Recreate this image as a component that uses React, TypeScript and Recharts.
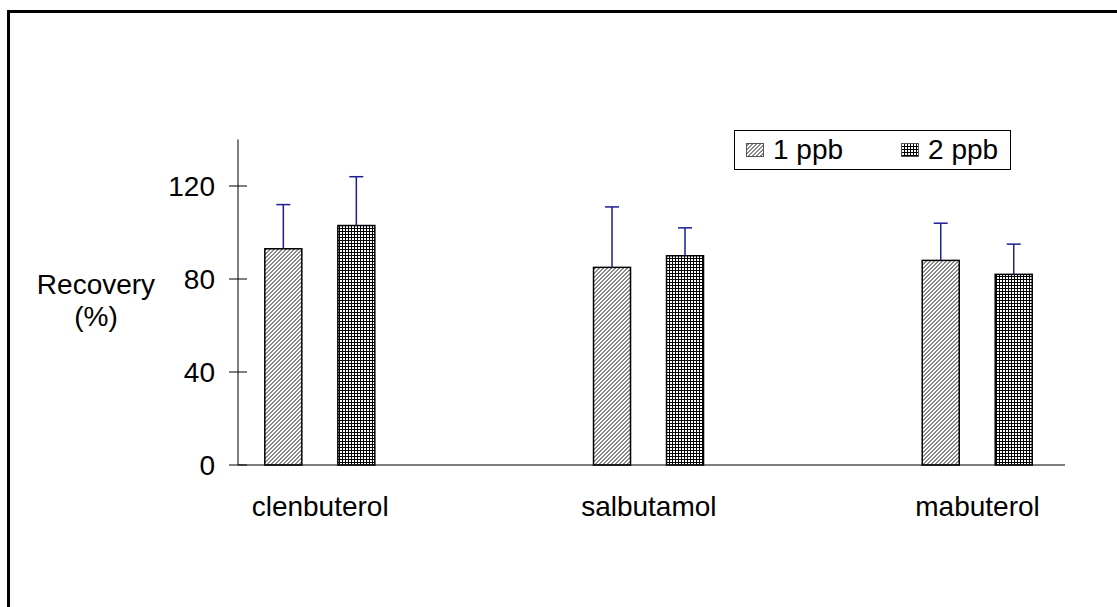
import React from 'react';
import { BarChart, Bar, XAxis, YAxis, Legend } from 'recharts';

const categories = ['clenbuterol', 'salbutamol', 'mabuterol'];
const seriesNames = ['1 ppb', '2 ppb'];
const recovery1ppb = [93, 85, 88];
const error1ppb = [19, 26, 16];
const recovery2ppb = [103, 90, 82];
const error2ppb = [21, 12, 13];
const yTicks = [0, 40, 80, 120];

const FONT = '"Liberation Sans", Arial, sans-serif';
const FONT_SIZE = 28;
const ERR_COLOR = '#1c1c96';
const fills = ['url(#diag)', 'url(#grid)'];

const data = categories.map((name, i) => ({
  idx: i,
  name,
  p1: recovery1ppb[i],
  e1: error1ppb[i],
  p2: recovery2ppb[i],
  e2: error2ppb[i],
}));

// bar with an upward-only error whisker, scaled from the bar's own height
const makeShape = (valueKey: string, errKey: string) => (props: any) => {
  const { x, y, width, height, fill, payload } = props;
  const value = payload[valueKey];
  const errPx = value ? (payload[errKey] * height) / value : 0;
  const cx = x + width / 2;
  return (
    <g>
      <rect x={x} y={y} width={width} height={height} fill={fill} stroke="#000" strokeWidth={1.5} />
      <line x1={cx} y1={y} x2={cx} y2={y - errPx} stroke={ERR_COLOR} strokeWidth={1.5} />
      <line x1={cx - 7} x2={cx + 7} y1={y - errPx} y2={y - errPx} stroke={ERR_COLOR} strokeWidth={1.5} />
    </g>
  );
};

// tick mark crosses the axis line, label sits left of it
const YTick = (props: any) => {
  const { x, y, payload } = props;
  return (
    <g>
      <line x1={x + 14} x2={x + 32} y1={y} y2={y} stroke="#000" strokeWidth={1} />
      <text x={x} y={y} dy="0.355em" textAnchor="end" fill="#000" fontFamily={FONT} fontSize={FONT_SIZE}>
        {payload.value}
      </text>
    </g>
  );
};

const XTick = (props: any) => {
  const { x, y, payload } = props;
  return (
    <text x={x} y={y} dy="0.71em" textAnchor="middle" fill="#000" fontFamily={FONT} fontSize={FONT_SIZE}>
      {categories[payload.value]}
    </text>
  );
};

const YLabel = () => (
  <text x={96} y={294} textAnchor="middle" fill="#000" fontFamily={FONT} fontSize={FONT_SIZE}>
    <tspan x={96}>Recovery</tspan>
    <tspan x={96} dy={32}>(%)</tspan>
  </text>
);

const LegendBox = () => (
  <div
    style={{
      boxSizing: 'border-box',
      height: 40,
      border: '1.5px solid #000',
      background: '#fff',
      display: 'flex',
      alignItems: 'center',
      paddingLeft: 11,
      fontFamily: FONT,
      fontSize: FONT_SIZE,
      color: '#000',
    }}
  >
    {seriesNames.map((name, i) => (
      <div key={name} style={{ display: 'flex', alignItems: 'center', marginRight: i === 0 ? 58 : 0 }}>
        <svg width={18} height={14} style={{ marginRight: 9 }}>
          <rect x={0.5} y={0.5} width={17} height={13} fill={fills[i]} stroke="#555" strokeWidth={1} />
        </svg>
        <span>{name}</span>
      </div>
    ))}
  </div>
);

export default function App() {
  return (
    <div
      style={{
        position: 'fixed',
        left: 0,
        top: 0,
        width: 1117,
        height: 607,
        overflow: 'hidden',
        background: '#fff',
      }}
    >
      <div
        style={{
          position: 'absolute',
          left: 7,
          top: 10,
          width: 1200,
          height: 700,
          borderTop: '3px solid #000',
          borderLeft: '3px solid #000',
        }}
      />
      <div style={{ position: 'absolute', left: 0, top: 0 }}>
        <BarChart
          width={1117}
          height={607}
          data={data}
          margin={{ top: 139.5, right: 52, left: 0, bottom: 82 }}
          barSize={37}
          barGap={36}
        >
          <defs>
            <pattern id="diag" patternUnits="userSpaceOnUse" width={4} height={4}>
              <rect width={4} height={4} fill="#fff" />
              <rect x={2} y={0} width={2} height={1} fill="#8a8a8a" />
              <rect x={1} y={1} width={2} height={1} fill="#8a8a8a" />
              <rect x={0} y={2} width={2} height={1} fill="#8a8a8a" />
              <rect x={3} y={3} width={1} height={1} fill="#8a8a8a" />
              <rect x={0} y={3} width={1} height={1} fill="#8a8a8a" />
            </pattern>
            <pattern id="grid" patternUnits="userSpaceOnUse" width={3} height={3}>
              <rect width={3} height={3} fill="#fff" />
              <rect x={0} y={0} width={1} height={3} fill="#000" />
              <rect x={0} y={0} width={3} height={1} fill="#000" />
            </pattern>
          </defs>
          <XAxis
            dataKey="idx"
            type="number"
            domain={[-0.25, 2.266]}
            allowDataOverflow
            ticks={[0, 1, 2]}
            interval={0}
            height={60}
            tickLine={false}
            tickSize={0}
            tickMargin={31}
            axisLine={{ stroke: '#000', strokeWidth: 1 }}
            tick={<XTick />}
          />
          <YAxis
            type="number"
            domain={[0, 140]}
            ticks={yTicks}
            interval={0}
            width={238}
            tickLine={false}
            tickSize={9}
            tickMargin={14}
            axisLine={{ stroke: '#000', strokeWidth: 1 }}
            tick={<YTick />}
            label={{ content: <YLabel /> }}
          />
          <Legend
            layout="horizontal"
            verticalAlign="middle"
            align="center"
            content={<LegendBox />}
            wrapperStyle={{ top: 130, left: 734, width: 277, height: 40 }}
          />
          <Bar dataKey="p1" name={seriesNames[0]} fill={fills[0]} isAnimationActive={false} shape={makeShape('p1', 'e1')} />
          <Bar dataKey="p2" name={seriesNames[1]} fill={fills[1]} isAnimationActive={false} shape={makeShape('p2', 'e2')} />
        </BarChart>
      </div>
    </div>
  );
}
